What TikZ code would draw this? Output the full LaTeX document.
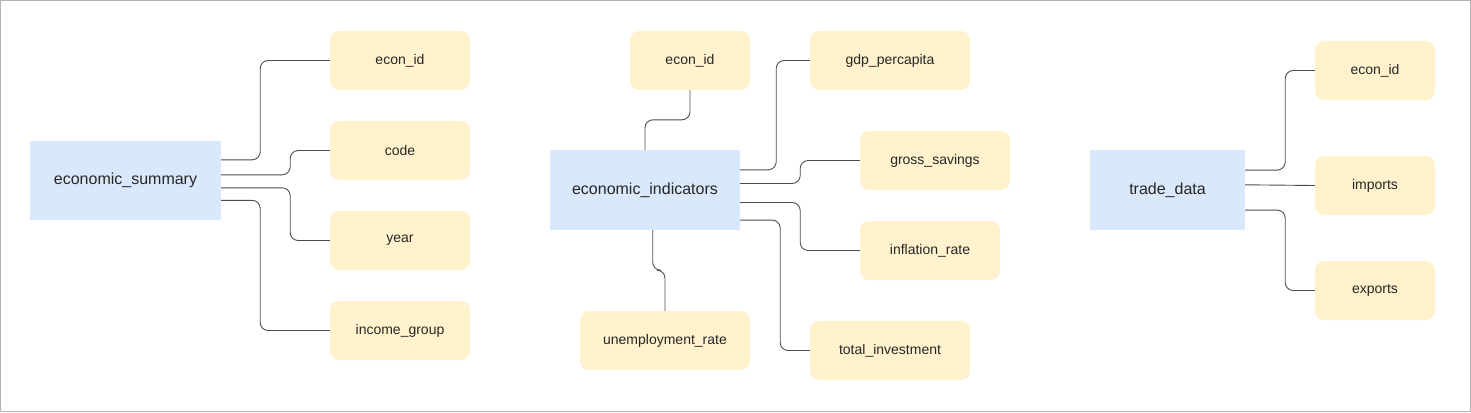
\documentclass[tikz,border=0pt]{standalone}
\usepackage{fontspec}
\setmainfont{Liberation Sans}
\definecolor{tablefill}{HTML}{DAE8FC}
\definecolor{fieldfill}{HTML}{FFF2CC}
\definecolor{linkgray}{HTML}{4D4D4D}
\definecolor{framegray}{HTML}{B3B3B3}
\begin{document}
\begin{tikzpicture}[
x=1pt,y=-1pt,
table/.style={fill=tablefill,inner sep=0pt,minimum height=80pt,text=black!85,font=\fontsize{16}{19}\selectfont},
field/.style={fill=fieldfill,rounded corners=9pt,inner sep=0pt,minimum height=59pt,text=black!85,font=\fontsize{14}{17}\selectfont},
link/.style={draw=linkgray,line width=0.9pt,rounded corners=8pt},
]
\useasboundingbox (0,0) rectangle (1471,412);
\draw[framegray,line width=1pt] (0.5,0.5) rectangle (1470.5,411.5);
\node[table,minimum width=191pt,minimum height=79pt] (summary) at (125.5,180.5) {economic\_summary};
\node[field,minimum width=140pt] (sumid) at (400,60.5) {econ\_id};
\node[field,minimum width=140pt] (sumcode) at (400,150.5) {code};
\node[field,minimum width=140pt] (sumyear) at (400,240.5) {year};
\node[field,minimum width=140pt] (sumincome) at (400,330.5) {income\_group};
\path[link]
    ([yshift=-19pt]summary.north east) -- ++(39,0) |- (sumid.west)
    ([yshift=-34pt]summary.north east) -- ++(69,0) |- (sumcode.west)
    ([yshift=-47pt]summary.north east) -- ++(69,0) |- (sumyear.west)
    ([yshift=-59.5pt]summary.north east) -- ++(39,0) |- (sumincome.west);
\node[table,minimum width=190pt] (indicators) at (645,190) {economic\_indicators};
\node[field,minimum width=120pt] (indid) at (690,60.5) {econ\_id};
\node[field,minimum width=160pt] (indgdp) at (890,60.5) {gdp\_percapita};
\node[field,minimum width=150pt] (indsavings) at (935,160.5) {gross\_savings};
\node[field,minimum width=140pt] (indinflation) at (930,250.5) {inflation\_rate};
\node[field,minimum width=160pt] (indinvest) at (890,350.5) {total\_investment};
\node[field,minimum width=170pt] (indunemp) at (665,340.5) {unemployment\_rate};
\path[link]
    (indicators.north) -- ++(0,-30) -| (indid.south)
    ([yshift=-20pt]indicators.north east) -- ++(36,0) |- (indgdp.west)
    ([yshift=-33.7pt]indicators.north east) -- ++(60,0) |- (indsavings.west)
    ([yshift=-52.7pt]indicators.north east) -- ++(60,0) |- (indinflation.west)
    ([yshift=-70.3pt]indicators.north east) -- ++(40,0) |- (indinvest.west)
    ([xshift=7.7pt]indicators.south) -- ++(0,40) -| (indunemp.north);
\node[table,minimum width=155pt] (trade) at (1167.5,190) {trade\_data};
\node[field,minimum width=120pt] (tradeid) at (1375,70.5) {econ\_id};
\node[field,minimum width=120pt] (tradeimp) at (1375,185.5) {imports};
\node[field,minimum width=120pt] (tradeexp) at (1375,290.5) {exports};
\path[link]
    ([yshift=-20.3pt]trade.north east) -- ++(40,0) |- (tradeid.west)
    ([yshift=-35pt]trade.north east) -- (tradeimp.west)
    ([yshift=-60.3pt]trade.north east) -- ++(40,0) |- (tradeexp.west);
\end{tikzpicture}
\end{document}
